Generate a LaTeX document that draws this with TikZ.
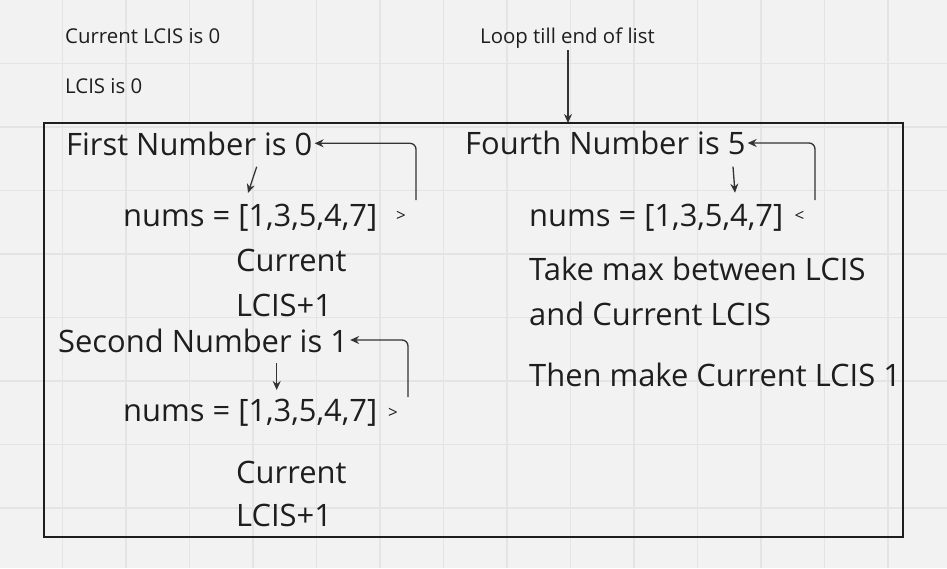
\documentclass[tikz,border=0pt]{standalone}
\usepackage{fontspec}
\setmainfont{Open Sans}
\usetikzlibrary{arrows.meta}
\definecolor{bg}{HTML}{F2F2F2}
\definecolor{gridc}{HTML}{E4E4E4}
\definecolor{ink}{HTML}{1E1E1E}
\definecolor{arr}{HTML}{333333}
\tikzset{
  big/.style={anchor=base west,inner sep=0pt,text=ink,font=\fontsize{30.9}{33}\selectfont},
  small/.style={anchor=base west,inner sep=0pt,text=ink,font=\fontsize{20.4}{22}\selectfont},
  tiny/.style={anchor=center,inner sep=0pt,text=ink,font=\fontsize{17}{18}\selectfont},
  conn/.style={draw=arr,line width=1.3pt,-{Stealth[length=9pt,width=8pt]}},
  loopc/.style={conn,rounded corners=6pt},
}
\begin{document}
\begin{tikzpicture}[x=1pt,y=-1pt]
\useasboundingbox (0,0) rectangle (947,568);
\fill[bg] (0,0) rectangle (947,568);
\foreach \i in {1,...,14}{\draw[gridc,line width=1.2pt] (\i*63.5-1,0) -- (\i*63.5-1,568);}
\foreach \j in {1,...,8}{\draw[gridc,line width=1.2pt] (0,\j*63.5) -- (947,\j*63.5);}
% main frame
\draw[ink,line width=1.5pt] (44,123) rectangle (903,537);
\coordinate (frametop) at (568,123);
% top texts
\node[small] (cur) at (65,43) {Current LCIS is 0};
\node[small] (lcis) at (65,93) {LCIS is 0};
\node[small] (loop) at (480,43) {Loop till end of list};
\coordinate (loopstart) at (568,50);
\draw[conn] (loopstart) -- (frametop);
% first block
\node[big] (first) at (66,155) {First Number is 0};
\node[big] (nums1) at (123,226.7) {nums = [1,3,5,4,7]};
\node[tiny] (gt1) at (401,216.5) {>};
\node[big] (cur1) at (236,271.7) {Current};
\node[big] (lc1) at (236,316) {LCIS+1};
\coordinate (a1s) at (256.7,166.7);
\coordinate (a1e) at (248,193);
\draw[conn] (a1s) -- (a1e);
\coordinate (l1s) at (416,200);
\draw[loopc] (l1s) |- ([xshift=2pt]first.east|-0,143.3);
% second block
\node[big] (second) at (58,352) {Second Number is 1};
\node[big] (nums2) at (123,421.7) {nums = [1,3,5,4,7]};
\node[tiny] (gt2) at (393,413) {>};
\node[big] (cur2) at (236,483.3) {Current};
\node[big] (lc2) at (236,526.7) {LCIS+1};
\coordinate (a2s) at (276.7,363);
\coordinate (a2e) at (276.7,390);
\draw[conn] (a2s) -- (a2e);
\coordinate (l2s) at (408,397);
\draw[loopc] (l2s) |- ([xshift=2pt]second.east|-0,340);
% fourth block
\node[big] (fourth) at (465,154) {Fourth Number is 5};
\node[big] (nums3) at (529,226.7) {nums = [1,3,5,4,7]};
\node[tiny] (lt3) at (799.5,216) {<};
\node[big] (take) at (529,280.7) {Take max between LCIS};
\node[big] (and) at (529,325) {and Current LCIS};
\node[big] (then) at (529,386.7) {Then make Current LCIS 1};
\coordinate (a3s) at (733,166.7);
\coordinate (a3e) at (735,192.7);
\draw[conn] (a3s) -- (a3e);
\coordinate (l3s) at (815,200);
\draw[loopc] (l3s) |- ([xshift=2pt]fourth.east|-0,143);
\end{tikzpicture}
\end{document}
